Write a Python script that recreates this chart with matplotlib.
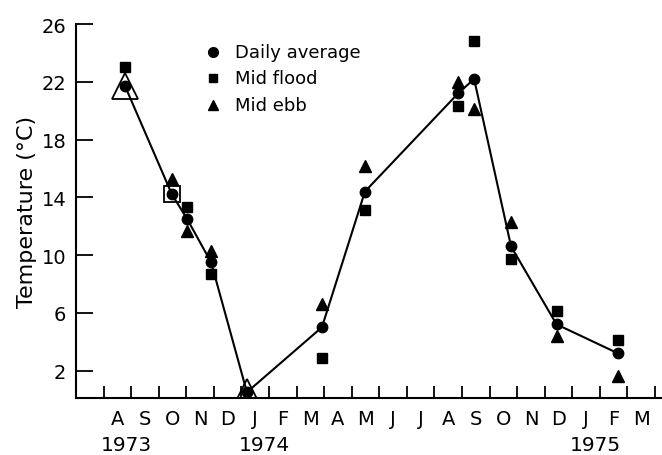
import numpy as np
import matplotlib
matplotlib.use("Agg")
import matplotlib.pyplot as plt

plt.rcParams['font.family'] = ['DejaVu Sans']

# Sampling dates, in months counted from 1 July 1973
months = [1.78, 3.48, 4.03, 4.90, 6.20, 8.92, 10.48, 13.86, 14.44, 15.78, 17.43, 19.65]

daily_avg = [21.7, 14.2, 12.5, 9.5, 0.5, 5.0, 14.4, 21.2, 22.2, 10.6, 5.2, 3.2]
mid_flood = [23.0, np.nan, 13.3, 8.7, np.nan, 2.9, 13.1, 20.3, 24.8, 9.7, 6.1, 4.1]
mid_ebb = [np.nan, 15.3, 11.7, 10.3, np.nan, 6.6, 16.2, 22.0, 20.1, 12.3, 4.4, 1.6]

# Readings that coincide with the daily average (open symbols)
ebb_same_idx = [0, 4]
flood_same_idx = [1]

month_labels = ["A", "S", "O", "N", "D", "J", "F", "M", "A", "M",
                "J", "J", "A", "S", "O", "N", "D", "J", "F", "M"]
year_labels = ["1973", "1974", "1975"]
year_starts = [1, 6, 18]

fig = plt.figure(figsize=(6.62, 4.56), dpi=100)
ax = fig.add_axes([0.1148, 0.125, 0.885, 0.820])

ax.plot(months, daily_avg, color='black', linewidth=1.5, zorder=2)
ax.plot(months, daily_avg, 'o', color='black', markersize=7.5, zorder=3)
ax.plot(months, mid_flood, 's', color='black', markersize=6.5, zorder=3)
ax.plot(months, mid_ebb, '^', color='black', markersize=8, zorder=3)

ax.plot([months[i] for i in ebb_same_idx], [daily_avg[i] for i in ebb_same_idx], '^',
        markerfacecolor='none', markeredgecolor='black', markeredgewidth=1.3,
        markersize=19, zorder=4)
ax.plot([months[i] for i in flood_same_idx], [daily_avg[i] for i in flood_same_idx], 's',
        markerfacecolor='none', markeredgecolor='black', markeredgewidth=1.3,
        markersize=12, zorder=4)

# Legend drawn as a key of symbols and labels
key_x = 4.97
ax.plot([key_x], [24.05], 'o', color='black', markersize=7)
ax.plot([key_x], [22.25], 's', color='black', markersize=6)
ax.plot([key_x], [20.4], '^', color='black', markersize=7.5)
ax.text(key_x + 0.8, 24.05, "Daily average", fontsize=13, va='center', ha='left')
ax.text(key_x + 0.8, 22.25, "Mid flood", fontsize=13, va='center', ha='left')
ax.text(key_x + 0.8, 20.4, "Mid ebb", fontsize=13, va='center', ha='left')

ax.set_xlim(0, 21.25)
ax.set_ylim(0.1, 26)

ax.set_yticks(np.arange(2, 27, 4))
ax.tick_params(axis='y', direction='in', length=12, width=1.3, labelsize=14, pad=7)

ax.set_xticks(np.arange(1, 22))
ax.set_xticklabels([])
ax.set_xticks(np.arange(1.5, 21, 1), minor=True)
ax.set_xticklabels(month_labels, minor=True)
ax.tick_params(axis='x', which='major', direction='in', length=9, width=1.3)
ax.tick_params(axis='x', which='minor', length=0, labelsize=14, pad=8)

for yr, start in zip(year_labels, year_starts):
    ax.text(start - 0.1, -0.139, yr, transform=ax.get_xaxis_transform(),
            fontsize=14.5, ha='left', va='baseline')

ax.set_ylabel("Temperature (°C)", fontsize=16, labelpad=3)

ax.spines['top'].set_visible(False)
ax.spines['right'].set_visible(False)
ax.spines['left'].set_linewidth(1.5)
ax.spines['bottom'].set_linewidth(1.5)

plt.savefig("out.png", dpi=100)
